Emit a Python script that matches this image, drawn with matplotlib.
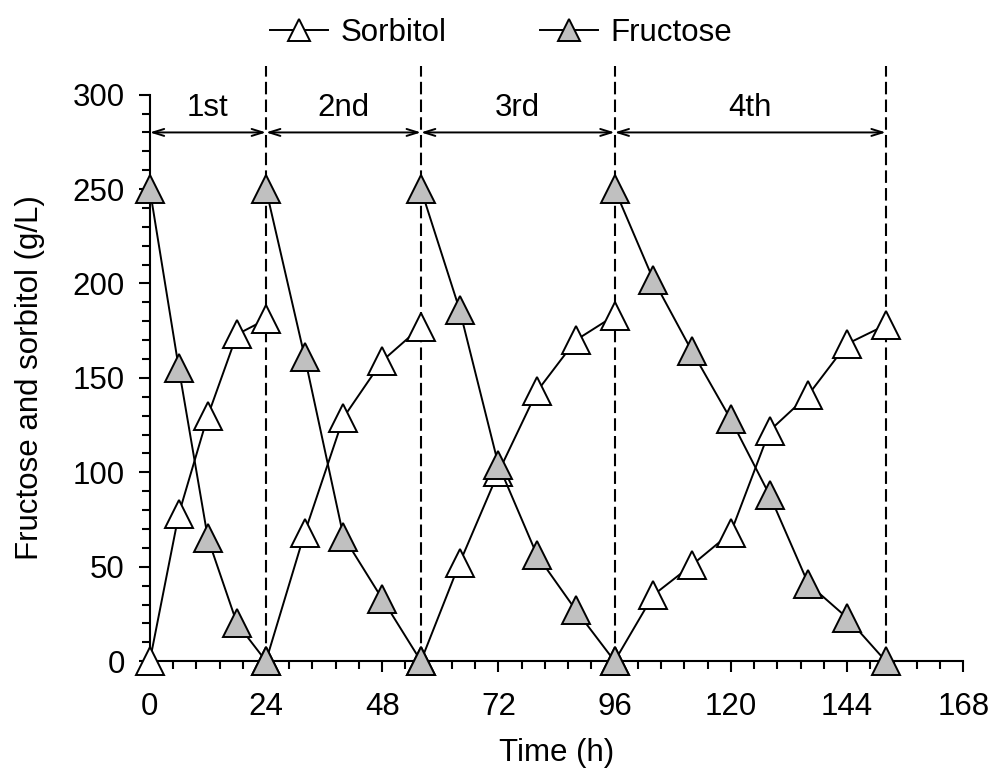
import matplotlib.pyplot as plt
import numpy as np
from matplotlib.ticker import MultipleLocator

plt.rcParams['font.family'] = ['Liberation Sans', 'DejaVu Sans']

# batch times (h)
t1 = [0, 6, 12, 18, 24]
t2 = [24, 32, 40, 48, 56]
t3 = [56, 64, 72, 80, 88, 96]
t4 = [96, 104, 112, 120, 128, 136, 144, 152]

# sorbitol (g/L)
sor1 = [0, 78, 130, 173, 181]
sor2 = [0, 68, 129, 159, 177]
sor3 = [0, 52, 100, 143, 170, 183]
sor4 = [0, 35, 51, 68, 122, 141, 168, 178]

# fructose (g/L)
fru1 = [250, 155, 65, 20, 0]
fru2 = [250, 161, 66, 33, 0]
fru3 = [250, 186, 104, 56, 27, 0]
fru4 = [250, 202, 164, 128, 88, 41, 23, 0]

bounds = [0, 24, 56, 96, 152]
batch_names = ['1st', '2nd', '3rd', '4th']

fs = 22.5

fig = plt.figure(figsize=(9.92, 7.76), dpi=100)
ax = fig.add_axes([0.151, 0.148, 0.820, 0.730])

ms = 19.5
for i, (t, s, f) in enumerate(zip([t1, t2, t3, t4], [sor1, sor2, sor3, sor4],
                                  [fru1, fru2, fru3, fru4])):
    ax.plot(t, s, color='black', lw=1.4, marker='^', ms=ms, mfc='white',
            mec='black', mew=1.4, clip_on=False, zorder=4,
            label='Sorbitol' if i == 0 else None)
    ax.plot(t, f, color='black', lw=1.4, marker='^', ms=ms, mfc='#c0c0c0',
            mec='black', mew=1.4, clip_on=False, zorder=5,
            label='Fructose' if i == 0 else None)

# dashed batch boundaries
for b in bounds[1:]:
    ax.plot([b, b], [0, 315], color='black', lw=1.5, ls=(0, (6, 2.5)),
            clip_on=False, zorder=3)

# arrows + labels
for i in range(4):
    ax.annotate('', xy=(bounds[i], 280), xytext=(bounds[i + 1], 280),
                arrowprops=dict(arrowstyle='<->,head_length=0.8,head_width=0.25',
                                color='black', lw=1.4, shrinkA=0, shrinkB=0))
    ax.text((bounds[i] + bounds[i + 1]) / 2, 293, batch_names[i],
            ha='center', va='center', fontsize=fs)

ax.set_xlim(0, 168)
ax.set_ylim(0, 300)
ax.xaxis.set_major_locator(MultipleLocator(24))
ax.xaxis.set_minor_locator(MultipleLocator(4.8))
ax.yaxis.set_major_locator(MultipleLocator(50))
ax.yaxis.set_minor_locator(MultipleLocator(10))

ax.spines['top'].set_visible(False)
ax.spines['right'].set_visible(False)
ax.spines['left'].set_linewidth(1.5)
ax.spines['bottom'].set_linewidth(1.5)
ax.tick_params(which='major', length=8, width=1.5, labelsize=fs)
ax.tick_params(axis='x', which='major', pad=14)
ax.tick_params(axis='y', which='major', pad=10)
ax.tick_params(which='minor', length=6, width=1.5)

ax.set_xlabel('Time (h)', fontsize=fs, labelpad=12)
ax.set_ylabel('Fructose and sorbitol (g/L)', fontsize=fs, labelpad=20)

fig.legend(loc='center', bbox_to_anchor=(0.505, 0.957), ncol=2, frameon=False,
           fontsize=fs, markerscale=0.78, handlelength=1.85, handletextpad=0.4,
           columnspacing=3.0)

fig.savefig('out.png', dpi=100)
